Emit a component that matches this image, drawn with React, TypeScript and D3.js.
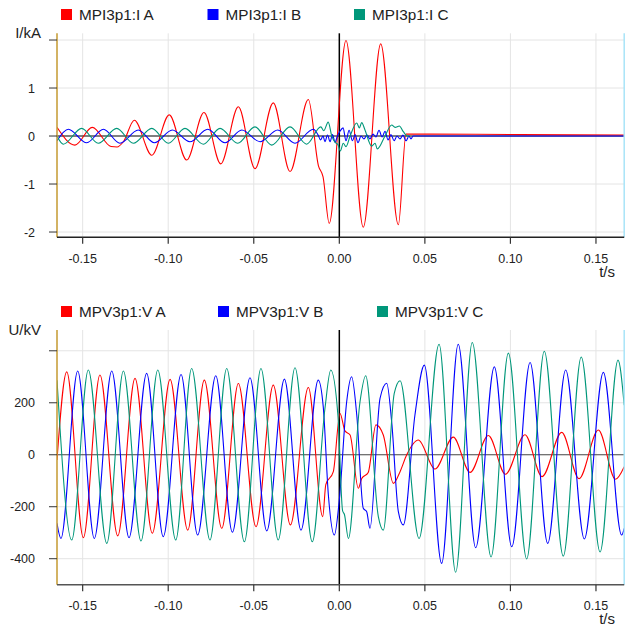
import React from "react";
import * as d3 from "d3";

// ---------- data (time in ms, values in kA / kV) ----------
const xTickValues = [-150, -100, -50, 0, 50, 100, 150];
const xTickLabels = ["-0.15", "-0.10", "-0.05", "0.00", "0.05", "0.10", "0.15"];
const iTickValues = [2, 1, 0, -1, -2];
const iTickLabels = ["", "1", "0", "-1", "-2"];
const uTickValues = [400, 200, 0, -200, -400];
const uTickLabels = ["", "200", "0", "-200", "-400"];

const currentNames = ["MPI3p1:I A", "MPI3p1:I B", "MPI3p1:I C"];
const voltageNames = ["MPV3p1:V A", "MPV3p1:V B", "MPV3p1:V C"];
const seriesColors = ["#ff0000", "#0000ff", "#00977a"];

const currentA: [number, number][] = [
  [-165, 0.18], [-154.5, -0.19], [-144.4, 0.18], [-133.4, -0.22], [-129.9, -0.23],
  [-126.2, -0.12], [-119.8, 0.33], [-109.6, -0.4], [-99.4, 0.44], [-89.2, -0.5],
  [-79.1, 0.49], [-69.3, -0.58], [-59.0, 0.61], [-49.3, -0.68], [-38.6, 0.69],
  [-28.8, -0.74], [-18.1, 0.76], [-12.2, -0.62], [-9.5, -0.85], [-5.9, -1.82],
  [3.9, 1.99], [14.0, -1.9], [24.2, 1.92], [34.5, -1.85], [39.0, 0.04],
  [53.0, 0.04], [105.6, 0.03], [166.5, 0.02],
];
const currentB: [number, number][] = [
  [-165, -0.1], [-158.4, 0.14], [-147.6, -0.14], [-137.9, 0.14], [-128.2, -0.15],
  [-117.5, 0.125], [-108.1, -0.14], [-97.6, 0.125], [-87.3, -0.12], [-76.9, 0.14],
  [-66.8, -0.14], [-57.0, 0.125], [-46.3, -0.12], [-36.0, 0.125], [-25.9, -0.15],
  [-15.2, 0.14], [-12.4, 0.02], [-11.0, -0.08], [-9.5, 0.0], [-8.4, -0.12],
  [-6.9, 0.02], [-5.4, -0.12], [-4.0, 0.03], [-2.5, -0.13], [-1.1, 0.0],
  [0.4, 0.1], [2.2, 0.17], [3.9, -0.1], [5.7, 0.12], [7.7, -0.1],
  [9.2, 0.03], [10.9, -0.14], [12.7, 0.0], [14.4, -0.06], [16.2, 0.02],
  [17.9, -0.06], [19.7, 0.04], [21.4, -0.02], [23.2, 0.12], [25.0, -0.02],
  [26.7, 0.1], [28.5, -0.08], [30.2, 0.03], [32.0, -0.1], [33.7, 0.0],
  [35.5, -0.06], [37.2, 0.02], [39.0, -0.1], [40.7, 0.0], [41.9, -0.06],
  [43.1, 0.0], [166.5, 0.0],
];
const currentC: [number, number][] = [
  [-165, 0.0], [-161.3, -0.17], [-150.6, 0.16], [-140.9, -0.15], [-130.1, 0.16],
  [-120.4, -0.15], [-109.6, 0.16], [-99.9, -0.15], [-90.2, 0.16], [-79.5, -0.17],
  [-69.7, 0.16], [-59.4, -0.15], [-49.3, 0.19], [-39.5, -0.19], [-28.8, 0.19],
  [-19.1, -0.17], [-10.8, 0.19], [-9.1, 0.11], [-6.5, 0.29], [-4.4, 0.0],
  [-2.5, -0.13], [-0.8, -0.18], [0.6, -0.31], [2.3, -0.15], [3.9, -0.22],
  [6.3, 0.0], [10.2, 0.27], [11.7, 0.17], [13.1, 0.28], [15.0, 0.125],
  [18.9, -0.21], [20.9, -0.15], [22.2, -0.27], [26.7, 0.0], [30.6, 0.23],
  [32.6, 0.18], [35.1, 0.21], [37.4, 0.09], [39.7, 0.0], [41.0, 0.0],
];

const voltageA: [number, number][] = [
  [-165, -20], [-159.3, 319], [-149.6, -319], [-139.9, 307], [-129.5, -312],
  [-119.4, 294], [-109.3, -302], [-98.9, 290], [-88.6, -290], [-78.9, 287],
  [-68.7, -283], [-59.0, 274], [-48.7, -277], [-38.6, 268], [-28.6, -270],
  [-18.1, 259], [-9.7, -238], [-7.9, -115], [-3.5, -65], [0.4, 159],
  [3.3, 92], [6.3, 76], [11.1, -129], [13.1, -91], [16.9, -68],
  [21.4, 115], [25.7, 76], [31.6, -110], [35.5, -65], [39.4, 0],
  [46.2, 57], [55.9, -55], [66.6, 68], [76.4, -68], [87.1, 74],
  [97.1, -75], [108.5, 77], [118.5, -84], [130.0, 86], [140.1, -92],
  [151.4, 95], [161.4, -94], [166.5, -46],
];
const voltageB: [number, number][] = [
  [-165, -264], [-162.7, -322], [-152.9, 322], [-143.2, -322], [-133.0, 322],
  [-122.9, -319], [-112.6, 313], [-102.9, -315], [-92.5, 309], [-82.8, -309],
  [-72.2, 304], [-62.5, -298], [-52.2, 296], [-42.4, -293], [-32.1, 291],
  [-22.4, -290], [-12.3, 287], [-9.4, 185], [-6.4, -155], [-2.9, -309],
  [0.0, -174], [4.3, 204], [7.2, 300], [10.2, 153], [14.0, -206],
  [16.0, -219], [17.9, -283], [23.8, 217], [27.7, 275], [30.6, 127],
  [34.5, -219], [37.4, -270], [44.2, 153], [49.7, 345], [59.8, -418],
  [69.5, 425], [79.7, -358], [90.6, 338], [100.8, -354], [111.5, 355],
  [121.8, -341], [132.3, 326], [143.2, -324], [154.3, 317], [165.0, -309],
  [166.5, -283],
];
const voltageC: [number, number][] = [
  [-165, 287], [-156.4, -328], [-146.7, 326], [-135.9, -341], [-126.2, 322],
  [-115.9, -332], [-106.1, 326], [-95.6, -328], [-86.3, 332], [-75.6, -328],
  [-65.8, 332], [-55.5, -335], [-45.8, 332], [-35.7, -328], [-25.9, 335],
  [-15.8, -335], [-8.4, 178], [-5.0, 326], [-0.8, 150], [1.9, -215],
  [3.0, -230], [5.3, -322], [12.1, 204], [15.4, 304], [22.8, -238],
  [25.7, -290], [32.1, 236], [35.5, 285], [46.6, -322], [58.3, 425],
  [68.0, -452], [77.7, 432], [88.7, -393], [98.8, 391], [109.5, -401],
  [119.8, 398], [130.9, -390], [141.4, 376], [152.4, -374], [162.9, 364],
  [166.5, 191],
];

// ---------- layout ----------
const W = 630;
const H = 626;
const PLOT_LEFT = 57;
const PLOT_RIGHT = 624.2;
const FONT = "'Liberation Sans', Arial, Helvetica, sans-serif";

const xScale = d3.scaleLinear().domain([-165, 166.5]).range([PLOT_LEFT, PLOT_RIGHT]);

type PanelProps = {
  id: string;
  top: number;
  bottom: number;
  yDomain: [number, number];
  yTicks: number[];
  yTickLabels: string[];
  yLabel: string;
  names: string[];
  series: [number, number][][];
  legendX: number[];
  legendY: number;
  axisColor: string;
  zeroColor: string;
};

function Panel(p: PanelProps) {
  const y = d3.scaleLinear().domain(p.yDomain).range([p.bottom, p.top]);
  const line = d3
    .line<[number, number]>()
    .x((d) => xScale(d[0]))
    .y((d) => y(d[1]))
    .curve(d3.curveMonotoneX);
  const clipId = `clip-${p.id}`;
  return (
    <g>
      <defs>
        <clipPath id={clipId}>
          <rect x={PLOT_LEFT} y={p.top} width={PLOT_RIGHT - PLOT_LEFT} height={p.bottom - p.top} />
        </clipPath>
      </defs>
      {/* grid */}
      {xTickValues.filter((v) => v !== 0).map((v) => (
        <line key={`gx${v}`} x1={xScale(v)} x2={xScale(v)} y1={p.top} y2={p.bottom} stroke="#e4e4e4" strokeWidth={1} />
      ))}
      {p.yTicks.filter((v) => v !== 0).map((v) => (
        <line key={`gy${v}`} x1={PLOT_LEFT} x2={PLOT_RIGHT} y1={y(v)} y2={y(v)} stroke="#e4e4e4" strokeWidth={1} />
      ))}
      {/* zero lines */}
      <line x1={PLOT_LEFT} x2={PLOT_RIGHT} y1={y(0)} y2={y(0)} stroke={p.zeroColor} strokeWidth={1.2} />
      <line x1={xScale(0)} x2={xScale(0)} y1={p.top} y2={p.bottom} stroke="#000" strokeWidth={1.5} />
      {/* series */}
      <g clipPath={`url(#${clipId})`}>
        {p.series.map((s, i) => (
          <path key={i} d={line(s) || ""} fill="none" stroke={seriesColors[i]} strokeWidth={1.1} />
        ))}
      </g>
      {/* right cursor line */}
      <line x1={PLOT_RIGHT} x2={PLOT_RIGHT} y1={p.top} y2={p.bottom} stroke="#a8e4f8" strokeWidth={1.5} />
      {/* left axis */}
      <line x1={PLOT_LEFT} x2={PLOT_LEFT} y1={p.top} y2={p.bottom} stroke="#c49a30" strokeWidth={1.5} />
      {p.yTicks.map((v, i) => (
        <g key={`ty${v}`}>
          <line x1={PLOT_LEFT - 8} x2={PLOT_LEFT} y1={y(v)} y2={y(v)} stroke="#333" strokeWidth={1} />
          <text x={35} y={y(v)} dy="0.36em" textAnchor="end" fontSize={12.5} fontFamily={FONT} fill="#222">
            {p.yTickLabels[i]}
          </text>
        </g>
      ))}
      <text x={41} y={p.top + 5} textAnchor="end" fontSize={15} fontFamily={FONT} fill="#222">
        {p.yLabel}
      </text>
      {/* bottom axis */}
      <line x1={PLOT_LEFT} x2={PLOT_RIGHT} y1={p.bottom} y2={p.bottom} stroke={p.axisColor} strokeWidth={1.5} />
      {xTickValues.map((v, i) => (
        <g key={`tx${v}`}>
          <line x1={xScale(v)} x2={xScale(v)} y1={p.bottom} y2={p.bottom + 6.5} stroke="#333" strokeWidth={1.2} />
          <text x={xScale(v)} y={p.bottom + 25.4} textAnchor="middle" fontSize={12.5} fontFamily={FONT} fill="#222">
            {xTickLabels[i]}
          </text>
        </g>
      ))}
      <text x={615} y={p.bottom + 39.5} textAnchor="end" fontSize={15} fontFamily={FONT} fill="#222">
        t/s
      </text>
      {/* legend */}
      {p.names.map((n, i) => (
        <g key={n}>
          <rect x={p.legendX[i]} y={p.legendY} width={11} height={11} fill={seriesColors[i]} />
          <text x={p.legendX[i] + 18} y={p.legendY + 11} fontSize={15.3} fontFamily={FONT} fill="#222">
            {n}
          </text>
        </g>
      ))}
    </g>
  );
}

export default function App() {
  return (
    <div style={{ position: "absolute", left: 0, top: 0, width: W, height: H, background: "#fff" }}>
      <svg width={W} height={H} viewBox={`0 0 ${W} ${H}`} style={{ display: "block" }}>
        <rect x={0} y={0} width={W} height={H} fill="#fff" />
        <Panel
          id="i"
          top={33.3}
          bottom={237.3}
          yDomain={[-2.11, 2.14]}
          yTicks={iTickValues}
          yTickLabels={iTickLabels}
          yLabel="I/kA"
          names={currentNames}
          series={[currentA, currentB, currentC]}
          legendX={[61, 207.5, 354]}
          legendY={9}
          axisColor="#222"
          zeroColor="#000"
        />
        <Panel
          id="u"
          top={330}
          bottom={584.7}
          yDomain={[-500, 480]}
          yTicks={uTickValues}
          yTickLabels={uTickLabels}
          yLabel="U/kV"
          names={voltageNames}
          series={[voltageA, voltageB, voltageC]}
          legendX={[61, 218, 377]}
          legendY={306}
          axisColor="#555"
          zeroColor="#444"
        />
      </svg>
    </div>
  );
}
